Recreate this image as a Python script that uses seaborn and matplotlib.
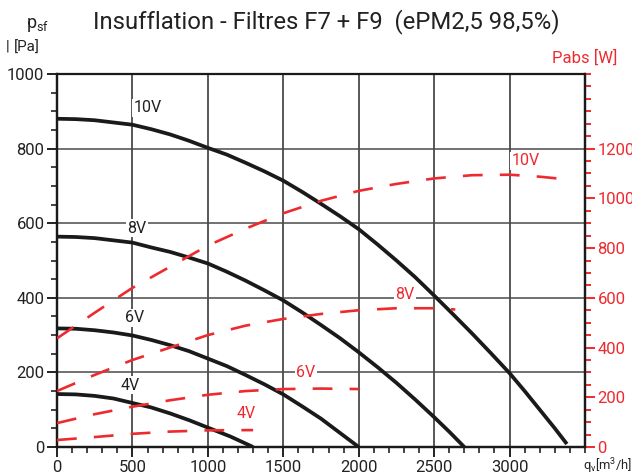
import matplotlib
matplotlib.use("Agg")
import matplotlib.pyplot as plt
import seaborn as sns
import pandas as pd
from matplotlib.ticker import FixedLocator, MultipleLocator

# ---------------- data ----------------
# static pressure curves  psf [Pa] vs qv [m3/h]
q_10v = [0, 125, 250, 375, 500, 625, 750, 875, 1000, 1125, 1250, 1375, 1500, 1625, 1750,
         1875, 2000, 2125, 2250, 2375, 2500, 2625, 2750, 2875, 3000, 3100, 3200, 3300, 3380]
psf_10v = [880, 879, 876, 870, 864, 852, 838, 821, 802, 784, 762, 739, 714, 684, 652,
           619, 584, 543, 500, 455, 406, 356, 305, 252, 198, 150, 100, 50, 8]
q_8v = [0, 125, 250, 375, 500, 625, 750, 875, 1000, 1125, 1250, 1375, 1500, 1625, 1750,
        1875, 2000, 2125, 2250, 2375, 2500, 2600, 2700]
psf_8v = [564, 563, 560, 554, 548, 535, 523, 508, 492, 470, 446, 420, 393, 361, 327,
          292, 254, 214, 172, 127, 80, 41, 0]
q_6v = [0, 125, 250, 375, 500, 625, 750, 875, 1000, 1125, 1250, 1375, 1500, 1625, 1750, 1875, 2000]
psf_6v = [318, 317, 313, 307, 299, 287, 273, 257, 237, 217, 193, 168, 141, 109, 76, 38, 0]
q_4v = [0, 125, 250, 375, 500, 625, 750, 875, 1000, 1150, 1300]
psf_4v = [142, 141, 137, 130, 118, 106, 90, 72, 52, 28, 0]

# absorbed power curves  Pabs [W] vs qv [m3/h]
qp_10v = [0, 250, 500, 750, 1000, 1250, 1500, 1750, 2000, 2250, 2500, 2750, 3000, 3200, 3400]
pabs_10v = [437, 540, 640, 725, 810, 878, 940, 990, 1030, 1058, 1080, 1093, 1095, 1087, 1075]
qp_8v = [0, 250, 500, 750, 1000, 1250, 1500, 1750, 2000, 2250, 2500, 2640]
pabs_8v = [225, 290, 350, 400, 450, 488, 515, 535, 550, 558, 558, 553]
qp_6v = [0, 250, 500, 750, 1000, 1250, 1500, 1750, 2000]
pabs_6v = [96, 132, 162, 188, 210, 225, 233, 235, 233]
qp_4v = [0, 250, 500, 750, 1000, 1300]
pabs_4v = [28, 40, 53, 62, 67, 68]

x_ticks = [0, 500, 1000, 1500, 2000, 2500, 3000]
y_ticks = [0, 200, 400, 600, 800, 1000]
y2_ticks = [0, 200, 400, 600, 800, 1000, 1200]

title = "Insufflation - Filtres F7 + F9  (ePM2,5 98,5%)"

# ---------------- style ----------------
sns.set_theme(style="ticks")
plt.rcParams["font.family"] = ["Roboto", "DejaVu Sans"]
plt.rcParams["mathtext.fontset"] = "custom"
plt.rcParams["mathtext.rm"] = "Roboto"

TXT = "#222222"
RED = "#ee2a2f"
W, H = 632, 476

fig = plt.figure(figsize=(W / 100, H / 100), dpi=100)
ax = fig.add_axes([57 / W, 1 - 447 / H, (585 - 57) / W, (447 - 74) / H])
ax2 = ax.twinx()

ax.set_xlim(0, 3500)
ax.set_ylim(0, 1000)
ax2.set_ylim(0, 1500)

# grid
for xv in x_ticks[1:]:
    ax.axvline(xv, color="#2a2a2a", lw=1.1, zorder=1)
for yv in y_ticks[1:-1]:
    ax.axhline(yv, color="#4a4a4a", lw=1.1, zorder=1)

# pressure curves
pres = [(q_10v, psf_10v), (q_8v, psf_8v), (q_6v, psf_6v), (q_4v, psf_4v)]
for qq, pp in pres:
    df = pd.DataFrame({"q": qq, "p": pp})
    sns.lineplot(data=df, x="q", y="p", ax=ax, color="#1a1a1a", lw=2.7,
                 estimator=None, sort=False, zorder=4, solid_capstyle="butt",
                 solid_joinstyle="round")

# power curves
powr = [(qp_10v, pabs_10v), (qp_8v, pabs_8v), (qp_6v, pabs_6v), (qp_4v, pabs_4v)]
for qq, pp in powr:
    df = pd.DataFrame({"q": qq, "w": pp})
    sns.lineplot(data=df, x="q", y="w", ax=ax2, color=RED, lw=1.9,
                 estimator=None, sort=False, zorder=3)
    ax2.lines[-1].set_dashes((7.5, 6.5))

ax.set_xlabel("")
ax.set_ylabel("")
ax2.set_xlabel("")
ax2.set_ylabel("")

# ticks
ax.xaxis.set_major_locator(FixedLocator(x_ticks))
ax.xaxis.set_minor_locator(MultipleLocator(100))
ax.yaxis.set_major_locator(FixedLocator(y_ticks))
ax.yaxis.set_minor_locator(MultipleLocator(50))
ax2.yaxis.set_major_locator(FixedLocator(y2_ticks))
ax2.yaxis.set_minor_locator(MultipleLocator(50))

ax.tick_params(axis="both", which="major", direction="out", length=7, width=1.4,
               color="#222222", labelsize=12, labelcolor=TXT, pad=2)
ax.tick_params(axis="both", which="minor", direction="out", length=4, width=1.2,
               color="#222222")
ax2.tick_params(axis="y", which="major", direction="out", length=7, width=1.4,
                color=RED, labelsize=12, labelcolor=RED, pad=2)
ax2.tick_params(axis="y", which="minor", direction="out", length=4, width=1.4,
                color=RED)

for a in (ax, ax2):
    for s in a.spines.values():
        s.set_visible(True)
        s.set_color("#1a1a1a")
        s.set_linewidth(1.6)
ax.spines["top"].set_linewidth(1.2)

# curve labels
lab_kw = dict(ha="center", va="center", fontsize=11.5, zorder=6,
              bbox=dict(boxstyle="square,pad=0.1", fc="white", ec="none"))
for txt, x, y in [("10V", 600, 909), ("8V", 530, 587), ("6V", 517, 346), ("4V", 484, 166)]:
    ax.text(x, y, txt, color=TXT, **lab_kw)
for txt, x, y in [("10V", 3109, 767), ("8V", 2307, 410), ("6V", 1651, 201), ("4V", 1253, 91)]:
    ax.text(x, y, txt, color=RED, **lab_kw)

# title and axis captions
t = fig.text(326 / W, 1 - 22 / H, title, ha="center", va="center",
             fontsize=17, color=TXT)
fig.canvas.draw()
bb = t.get_window_extent()
t.set_fontsize(17 * 468 / bb.width)

fig.text(38 / W, 1 - 25 / H, r"p$_{\rm sf}$", ha="center", va="center",
         fontsize=13, color=TXT)
fig.text(27 / W, 1 - 48 / H, "[Pa]", ha="center", va="center",
         fontsize=11, color=TXT)
fig.text(8 / W, 1 - 47 / H, "|", ha="center", va="center",
         fontsize=11, color=TXT)
fig.text(585 / W, 1 - 58 / H, "Pabs [W]", ha="center", va="center",
         fontsize=12, color=RED)
fig.text(583 / W, 1 - 466 / H, r"q$_{\rm v}$[m$^3$/h]", ha="left", va="center",
         fontsize=9.3, color=TXT)

fig.savefig("out.png", dpi=100)
